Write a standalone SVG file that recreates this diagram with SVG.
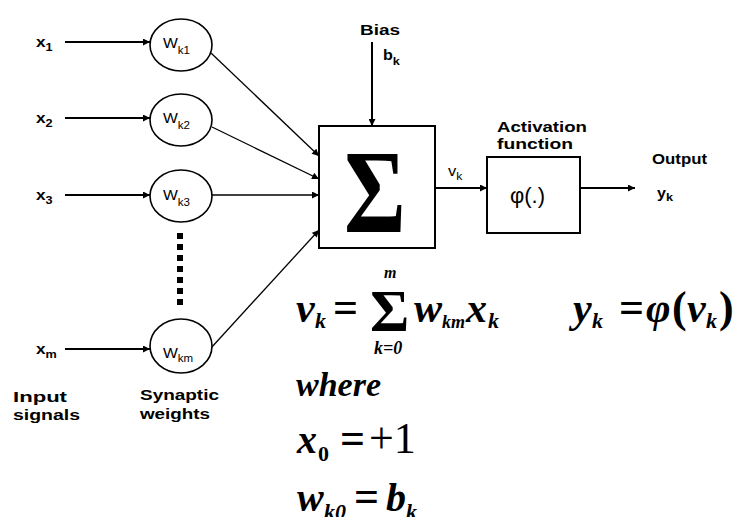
<svg xmlns="http://www.w3.org/2000/svg" width="736" height="517" viewBox="0 0 736 517">
<defs>
<marker id="ah" viewBox="0 0 10 10" refX="10" refY="5" markerWidth="8" markerHeight="7" markerUnits="userSpaceOnUse" orient="auto">
<path d="M0,0 L10,5 L0,10 z" fill="#000"/>
</marker>
<style>
.sans{font-family:"Liberation Sans",Arial,sans-serif;fill:#000}
.b{font-weight:bold}
.math{font-family:"Liberation Serif","Times New Roman",serif;font-weight:bold;font-style:italic;fill:#000}
.up{font-family:"Liberation Serif","Times New Roman",serif;font-weight:bold;fill:#000}
.node{fill:#fff;stroke:#000;stroke-width:1.6}
.box{fill:#fff;stroke:#000;stroke-width:2}
.in{stroke:#000;stroke-width:2;fill:none;marker-end:url(#ah)}
.thin{stroke:#000;stroke-width:1.3;fill:none;marker-end:url(#ah)}
</style>
</defs>
<rect width="736" height="517" fill="#fff"/>

<g id="connectors">
<line class="in" x1="65" y1="42" x2="150" y2="42"/>
<line class="in" x1="65" y1="118" x2="150" y2="118"/>
<line class="in" x1="65" y1="195" x2="150" y2="195"/>
<line class="in" x1="65" y1="349" x2="150" y2="349"/>
<line class="thin" x1="211" y1="53" x2="319" y2="156"/>
<line class="thin" x1="212" y1="127" x2="319" y2="179"/>
<line class="thin" x1="212" y1="195" x2="319" y2="195"/>
<line class="thin" x1="211" y1="348" x2="319" y2="230"/>
<line class="in" x1="372" y1="42" x2="372" y2="126"/>
<line class="in" x1="435" y1="188" x2="487" y2="188"/>
<line class="in" x1="580" y1="188" x2="635" y2="188"/>
<line x1="180" y1="233" x2="180" y2="306" stroke="#000" stroke-width="6" stroke-dasharray="6 5"/>
</g>

<g id="input-labels">
<text class="sans b" font-size="15" transform="translate(36,47) scale(1.15,1)">x<tspan font-size="11" dy="4">1</tspan></text>
<text class="sans b" font-size="15" transform="translate(36,123) scale(1.15,1)">x<tspan font-size="11" dy="4">2</tspan></text>
<text class="sans b" font-size="15" transform="translate(36,200) scale(1.15,1)">x<tspan font-size="11" dy="4">3</tspan></text>
<text class="sans b" font-size="15" transform="translate(36,354) scale(1.15,1)">x<tspan font-size="11" dy="4">m</tspan></text>
</g>

<g id="w1">
<ellipse class="node" cx="181" cy="45" rx="31" ry="26"/>
<text class="sans" font-size="15" transform="translate(163,48) scale(1.05,1)">W<tspan font-size="11" dy="6">k1</tspan></text>
</g>
<g id="w2">
<ellipse class="node" cx="181" cy="120" rx="31" ry="26"/>
<text class="sans" font-size="15" transform="translate(163,123) scale(1.05,1)">W<tspan font-size="11" dy="6">k2</tspan></text>
</g>
<g id="w3">
<ellipse class="node" cx="181" cy="196" rx="31" ry="26"/>
<text class="sans" font-size="15" transform="translate(163,200) scale(1.05,1)">W<tspan font-size="11" dy="6">k3</tspan></text>
</g>
<g id="wm">
<ellipse class="node" cx="181" cy="346" rx="31" ry="27"/>
<text class="sans" font-size="15" transform="translate(163,358) scale(1.05,1)">W<tspan font-size="11" dy="4">km</tspan></text>
</g>

<g id="sum">
<rect class="box" x="319" y="126" width="116" height="122"/>
<text class="up" font-size="118" transform="translate(344,232) scale(0.8,1)">Σ</text>
</g>

<g id="bias">
<text class="sans b" font-size="14" x="360" y="35" textLength="40" lengthAdjust="spacingAndGlyphs">Bias</text>
<text class="sans b" font-size="14" transform="translate(383,60) scale(1.15,1)">b<tspan font-size="11" dy="5">k</tspan></text>
</g>

<g id="activation">
<text class="sans b" font-size="14" x="497" y="132" textLength="90" lengthAdjust="spacingAndGlyphs">Activation</text>
<text class="sans b" font-size="14" x="497" y="149" textLength="76" lengthAdjust="spacingAndGlyphs">function</text>
<rect class="box" x="487" y="157" width="93" height="76"/>
<text class="sans" font-size="22" x="510" y="203">φ(.)</text>
</g>

<g id="vk">
<text class="sans" font-size="15" transform="translate(448,176) scale(1.1,1)">v<tspan font-size="11" dy="4">k</tspan></text>
</g>

<g id="output">
<text class="sans b" font-size="14" x="652" y="164" textLength="55" lengthAdjust="spacingAndGlyphs">Output</text>
<text class="sans b" font-size="14" transform="translate(657,198) scale(1.15,1)">y<tspan font-size="11" dy="3">k</tspan></text>
</g>

<g id="captions">
<text class="sans b" font-size="14" x="13" y="402" textLength="54" lengthAdjust="spacingAndGlyphs">Input</text>
<text class="sans b" font-size="14" x="13" y="420" textLength="67" lengthAdjust="spacingAndGlyphs">signals</text>
<text class="sans b" font-size="14" x="140" y="400" textLength="79" lengthAdjust="spacingAndGlyphs">Synaptic</text>
<text class="sans b" font-size="14" x="140" y="419" textLength="70" lengthAdjust="spacingAndGlyphs">weights</text>
</g>

<g id="formulas">
<text class="math" font-size="42" x="296" y="322">v</text>
<text class="math" font-size="22" x="315" y="328">k</text>
<text class="up" font-size="44" x="333" y="322">=</text>
<text class="up" font-size="60" x="370" y="331">Σ</text>
<text class="math" font-size="16" x="384" y="278">m</text>
<text class="math" font-size="18" x="374" y="354">k=0</text>
<text class="math" font-size="42" x="414" y="322">w</text>
<text class="math" font-size="18" x="442" y="328">km</text>
<text class="math" font-size="42" x="466" y="322">x</text>
<text class="math" font-size="22" x="488" y="328">k</text>

<text class="math" font-size="42" x="573" y="322">y</text>
<text class="math" font-size="22" x="592" y="328">k</text>
<text class="up" font-size="44" x="619" y="322">=</text>
<text class="math" font-size="42" x="646" y="322">φ</text>
<text class="up" font-size="44" x="672" y="322">(</text>
<text class="math" font-size="42" x="687" y="322">v</text>
<text class="math" font-size="22" x="706" y="328">k</text>
<text class="up" font-size="44" x="719" y="322">)</text>

<text class="math" font-size="34" x="296" y="396">where</text>

<text class="math" font-size="40" x="297" y="453">x</text>
<text class="up" font-size="22" x="318" y="461">0</text>
<text class="up" font-size="44" x="340" y="453">=</text>
<text class="up" font-size="44" x="369" y="453" style="font-weight:normal">+1</text>

<text class="math" font-size="40" x="297" y="511">w</text>
<text class="math" font-size="22" x="324" y="519">k0</text>
<text class="up" font-size="44" x="354" y="511">=</text>
<text class="math" font-size="40" x="386" y="511">b</text>
<text class="math" font-size="22" x="406" y="519">k</text>
</g>
</svg>
